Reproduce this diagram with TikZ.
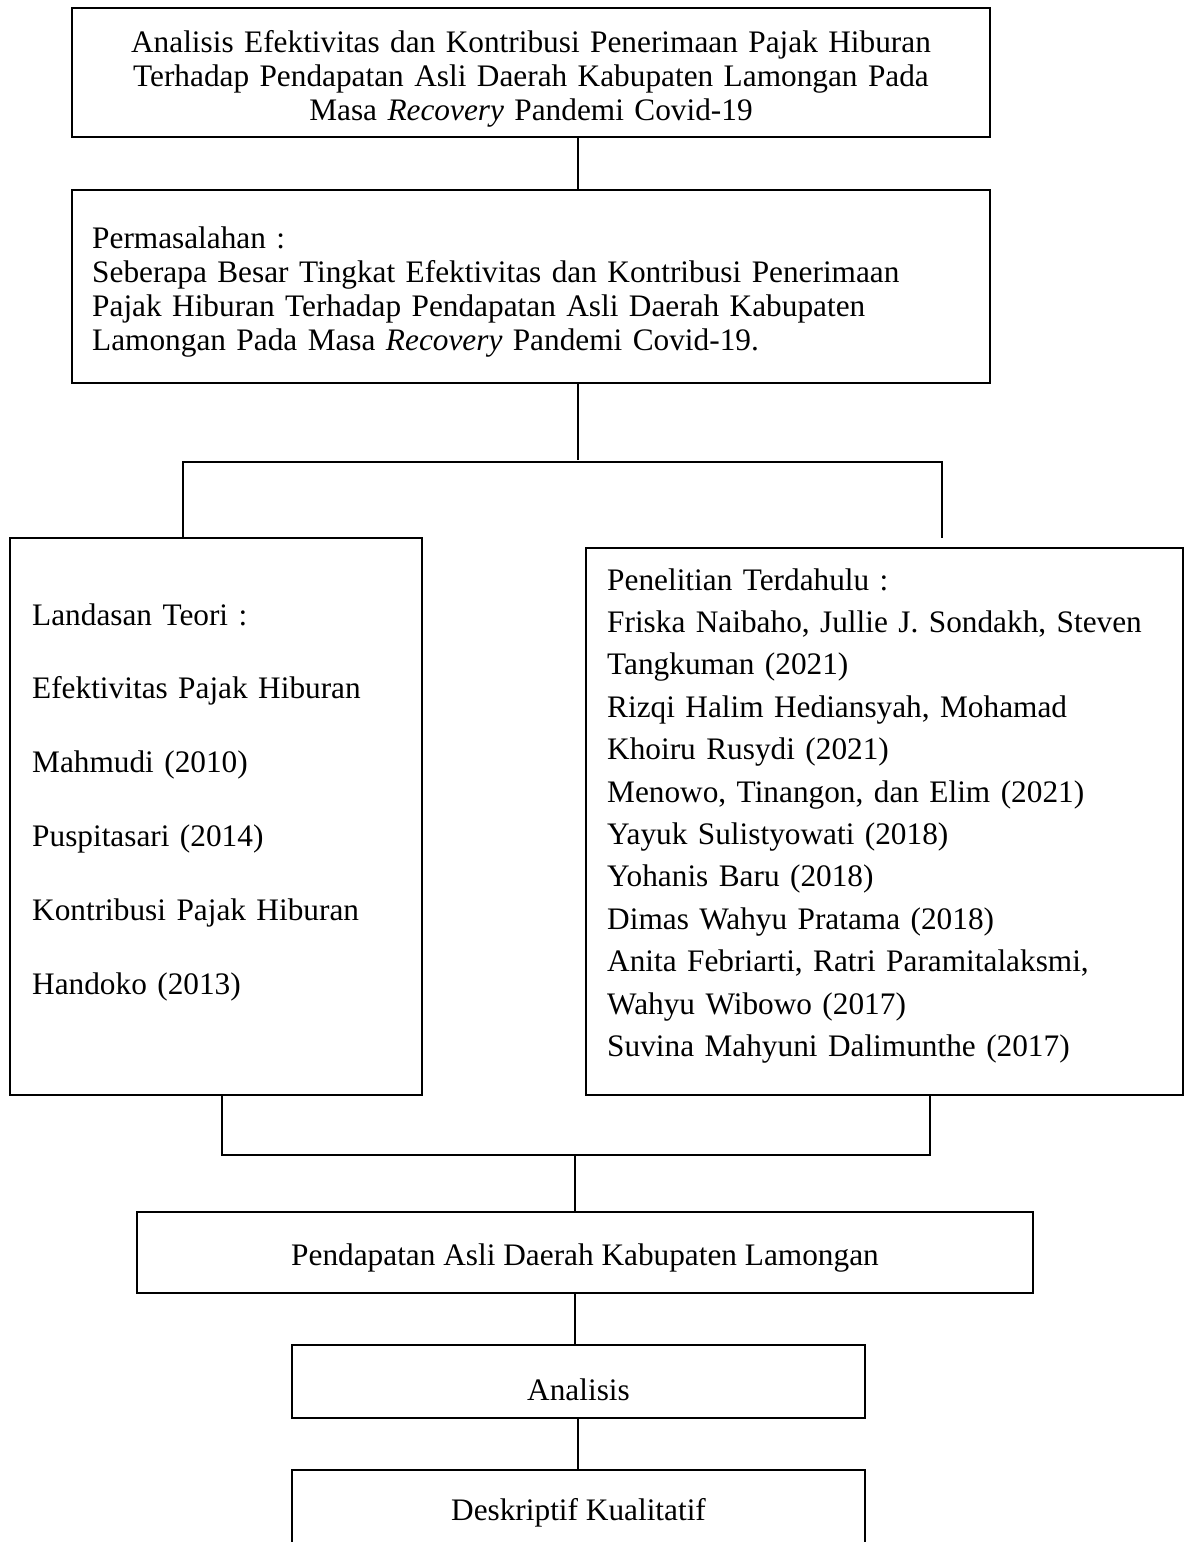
\documentclass[tikz,border=0pt]{standalone}
\usepackage{fontspec}
\setmainfont{Liberation Serif}
\tikzset{
  frame/.style={draw=black, line width=2.6pt, inner sep=0pt},
  teks/.style={inner sep=0pt, font=\fontsize{31.3}{34.3}\selectfont},
  link/.style={draw=black, line width=1.2pt},
}
\begin{document}
\begin{tikzpicture}[x=1pt,y=-1pt]
    \useasboundingbox (0,0) rectangle (1192,1542);

    % kotak
    \node[frame, minimum width=918pt, minimum height=129pt] (judul) at (531,72.5) {};
    \node[frame, minimum width=918pt, minimum height=193pt] (masalah) at (531,286.5) {};
    \node[frame, minimum width=412pt, minimum height=557pt] (teori) at (216,816.5) {};
    \node[frame, minimum width=597pt, minimum height=547pt] (terdahulu) at (884.5,821.5) {};
    \node[frame, minimum width=896pt, minimum height=81pt] (pad) at (585,1252.5) {};
    \node[frame, minimum width=573pt, minimum height=73pt] (analisis) at (578.5,1381.5) {};
    \node[frame, minimum width=573pt, minimum height=80pt] (deskriptif) at (578.5,1510) {};

    % isi
    \node[teks, anchor=base, text width=900pt, align=center] (judulteks) at (531,52)
        {Analisis Efektivitas dan Kontribusi Penerimaan Pajak Hiburan\\
         Terhadap Pendapatan Asli Daerah Kabupaten Lamongan Pada\\
         Masa \textit{Recovery} Pandemi Covid-19};
    \node[teks, anchor=base west, text width=878pt, align=left] (masalahteks) at (92,248)
        {Permasalahan :\\
         Seberapa Besar Tingkat Efektivitas dan Kontribusi Penerimaan\\
         Pajak Hiburan Terhadap Pendapatan Asli Daerah Kabupaten\\
         Lamongan Pada Masa \textit{Recovery} Pandemi Covid-19.};
    \node[teks, anchor=base west, text width=370pt, align=left, font=\fontsize{31.3}{73.8}\selectfont] (teoriteks) at (32,625)
        {Landasan Teori :\\
         Efektivitas Pajak Hiburan\\
         Mahmudi (2010)\\
         Puspitasari (2014)\\
         Kontribusi Pajak Hiburan\\
         Handoko (2013)};
    \node[teks, anchor=base west, text width=560pt, align=left, font=\fontsize{31.3}{42.4}\selectfont] (terdahuluteks) at (607,590)
        {Penelitian Terdahulu :\\
         Friska Naibaho, Jullie J. Sondakh, Steven\\
         Tangkuman (2021)\\
         Rizqi Halim Hediansyah, Mohamad\\
         Khoiru Rusydi (2021)\\
         Menowo, Tinangon, dan Elim (2021)\\
         Yayuk Sulistyowati (2018)\\
         Yohanis Baru (2018)\\
         Dimas Wahyu Pratama (2018)\\
         Anita Febriarti, Ratri Paramitalaksmi,\\
         Wahyu Wibowo (2017)\\
         Suvina Mahyuni Dalimunthe (2017)};
    \node[teks, anchor=base] (padteks) at (585,1265) {Pendapatan Asli Daerah Kabupaten Lamongan};
    \node[teks, anchor=base] (analisisteks) at (578.5,1400) {Analisis};
    \node[teks, anchor=base] (deskriptifteks) at (578.5,1520) {Deskriptif Kualitatif};

    % percabangan
    \coordinate (atas) at (578,460);
    \coordinate (cabangL) at (183,462);
    \coordinate (cabangR) at (942,462);
    \coordinate (ujungR) at (942,538);
    \coordinate (gabungL) at (222,1155);
    \coordinate (gabungR) at (930,1155);
    \coordinate (bawah) at (575,1155);

    \draw[link] (judul.south -| atas) -- (masalah.north -| atas);
    \draw[link] (masalah.south -| atas) -- (atas);
    \draw[link] (teori.north -| cabangL) -- (cabangL) -- (cabangR) -- (ujungR);
    \draw[link] (teori.south -| gabungL) -- (gabungL) -- (gabungR) -- (terdahulu.south -| gabungR);
    \draw[link] (bawah) -- (pad.north -| bawah);
    \draw[link] (pad.south -| bawah) -- (analisis.north -| bawah);
    \draw[link] (analisis.south -| atas) -- (deskriptif.north -| atas);

\end{tikzpicture}
\end{document}
